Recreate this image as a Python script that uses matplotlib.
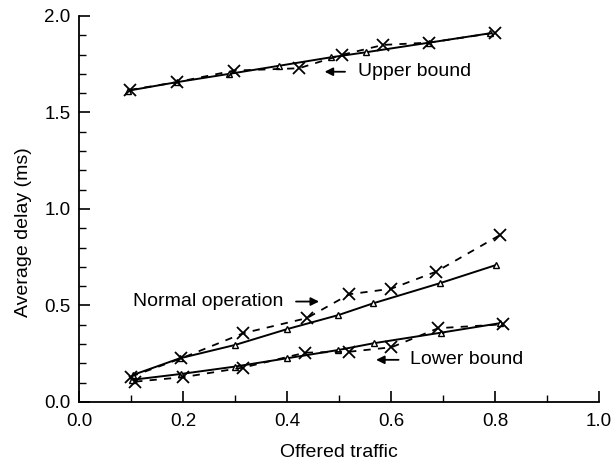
import matplotlib
matplotlib.use('Agg')
import matplotlib.pyplot as plt
from matplotlib.ticker import MultipleLocator

plt.rcParams['font.family'] = ['Liberation Sans', 'DejaVu Sans']

# upper bound
ub_tri_x = [0.095, 0.188, 0.289, 0.385, 0.485, 0.552, 0.674, 0.79]
ub_tri_y = [1.613, 1.657, 1.70, 1.742, 1.786, 1.812, 1.862, 1.91]
ub_x_x = [0.098, 0.188, 0.298, 0.423, 0.505, 0.585, 0.674, 0.80]
ub_x_y = [1.617, 1.657, 1.717, 1.729, 1.798, 1.85, 1.862, 1.913]

# normal operation
no_tri_x = [0.104, 0.194, 0.30, 0.40, 0.499, 0.566, 0.694, 0.803]
no_tri_y = [0.14, 0.226, 0.295, 0.377, 0.45, 0.511, 0.615, 0.71]
no_x_x = [0.10, 0.197, 0.316, 0.438, 0.52, 0.60, 0.687, 0.81]
no_x_y = [0.131, 0.226, 0.356, 0.434, 0.558, 0.586, 0.675, 0.865]

# lower bound
lb_tri_x = [0.101, 0.197, 0.30, 0.40, 0.499, 0.567, 0.697, 0.81]
lb_tri_y = [0.114, 0.145, 0.183, 0.226, 0.269, 0.304, 0.359, 0.408]
lb_x_x = [0.108, 0.20, 0.316, 0.435, 0.52, 0.601, 0.691, 0.816]
lb_x_y = [0.105, 0.128, 0.178, 0.255, 0.26, 0.283, 0.382, 0.402]

fig = plt.figure(figsize=(6.13, 4.63), dpi=100)
ax = fig.add_axes([0.129, 0.132, 0.848, 0.8335])

for tx, ty, xx, xy in [(ub_tri_x, ub_tri_y, ub_x_x, ub_x_y),
                       (no_tri_x, no_tri_y, no_x_x, no_x_y),
                       (lb_tri_x, lb_tri_y, lb_x_x, lb_x_y)]:
    ax.plot(tx, ty, '-', color='black', lw=1.4, marker='^', ms=5,
            mfc='white', mec='black', mew=1.0)
    ax.plot(xx, xy, '--', color='black', lw=1.3, dashes=(4, 4), marker='x',
            ms=9, mew=1.3)

# annotations
arr = dict(arrowstyle='-|>', color='black', lw=1.3, mutation_scale=12)
ax.annotate('', xy=(0.467, 1.711), xytext=(0.517, 1.711), arrowprops=arr)
ax.text(0.537, 1.711, 'Upper bound', fontsize=14, va='center', ha='left')
ax.annotate('', xy=(0.467, 0.52), xytext=(0.412, 0.52), arrowprops=arr)
ax.text(0.104, 0.52, 'Normal operation', fontsize=14, va='center', ha='left')
ax.annotate('', xy=(0.566, 0.218), xytext=(0.62, 0.218), arrowprops=arr)
ax.text(0.637, 0.218, 'Lower bound', fontsize=14, va='center', ha='left')

ax.set_xlim(0, 1.0)
ax.set_ylim(0, 2.0)
ax.spines['top'].set_visible(False)
ax.spines['right'].set_visible(False)
ax.spines['left'].set_linewidth(1.3)
ax.spines['bottom'].set_linewidth(1.3)
ax.xaxis.set_major_locator(MultipleLocator(0.2))
ax.xaxis.set_minor_locator(MultipleLocator(0.1))
ax.yaxis.set_major_locator(MultipleLocator(0.5))
ax.yaxis.set_minor_locator(MultipleLocator(0.1))
ax.xaxis.set_major_formatter(plt.FormatStrFormatter('%.1f'))
ax.yaxis.set_major_formatter(plt.FormatStrFormatter('%.1f'))
ax.tick_params(which='major', direction='in', length=8, width=1.2, labelsize=13.5, pad=6)
ax.tick_params(axis='x', which='major', pad=8)
ax.tick_params(which='minor', direction='in', length=5, width=1.0)
ax.set_xlabel('Offered traffic', fontsize=14, labelpad=10)
ax.set_ylabel('Average delay (ms)', fontsize=14, labelpad=8)
ax.yaxis.set_label_coords(-0.09, 0.44)

fig.savefig('out.png', dpi=100)
